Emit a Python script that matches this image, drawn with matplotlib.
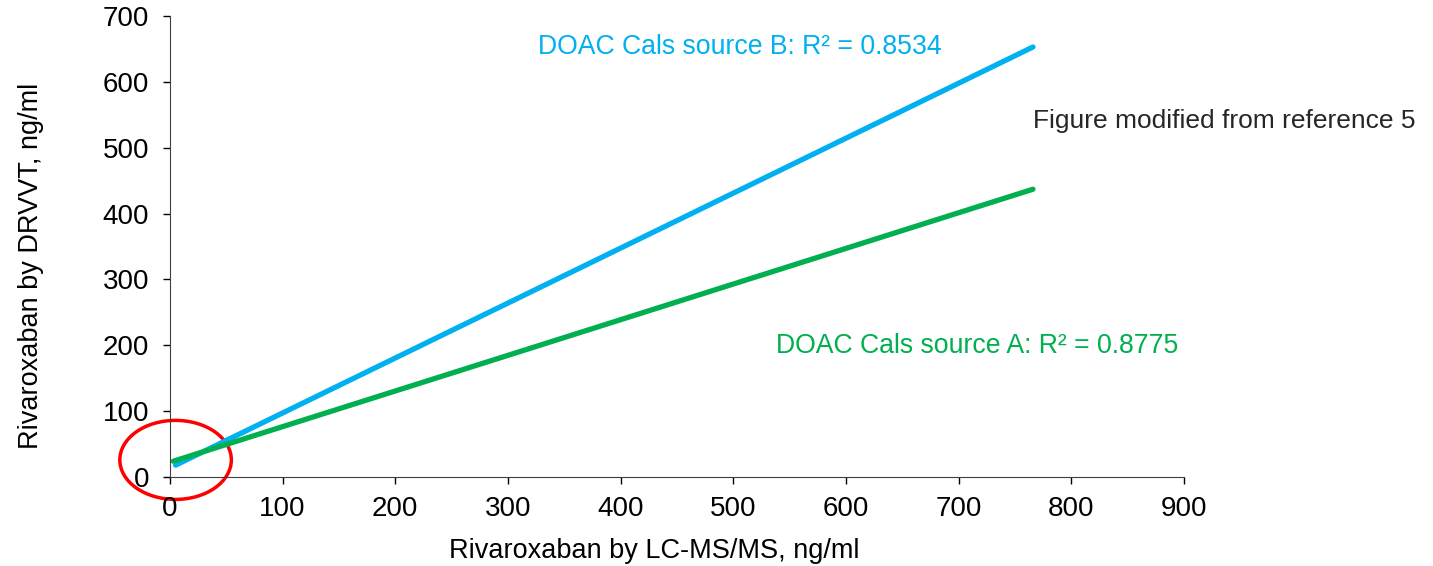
import matplotlib.pyplot as plt
from matplotlib.patches import Ellipse

plt.rcParams['font.family'] = ['Liberation Sans', 'DejaVu Sans']

# regression lines, end points
x_b = [5, 766]
y_b = [18, 653]
x_a = [3, 766]
y_a = [24, 437]

x_ticks = [0, 100, 200, 300, 400, 500, 600, 700, 800, 900]
y_ticks = [0, 100, 200, 300, 400, 500, 600, 700]

blue = '#00B0F0'
green = '#00B050'

fig = plt.figure(figsize=(14.33, 5.66), dpi=100)
ax = fig.add_axes([0.1186, 0.1572, 0.7076, 0.8145])

ax.plot(x_b, y_b, color=blue, lw=3.8, solid_capstyle='round')
ax.plot(x_a, y_a, color=green, lw=3.8, solid_capstyle='round')

ax.set_xlim(0, 900)
ax.set_ylim(0, 700)
ax.set_xticks(x_ticks)
ax.set_yticks(y_ticks)
ax.tick_params(labelsize=20, length=5, width=1, direction='out', colors='black')
ax.tick_params(axis='x', pad=9)
ax.tick_params(axis='y', pad=10)
for s in ['top', 'right']:
    ax.spines[s].set_visible(False)
for s in ['left', 'bottom']:
    ax.spines[s].set_color('#404040')

ax.set_xlabel('Rivaroxaban by LC-MS/MS, ng/ml', fontsize=19.5)
ax.set_ylabel('Rivaroxaban by DRVVT, ng/ml', fontsize=19.5)
ax.xaxis.set_label_coords(0.478, -0.132)
ax.yaxis.set_label_coords(-0.124, 0.458)

ax.text(506, 653, 'DOAC Cals source B: R² = 0.8534', color=blue, fontsize=19.2,
        ha='center', va='center')
ax.text(538, 199, 'DOAC Cals source A: R² = 0.8775', color=green, fontsize=19.2,
        ha='left', va='center')
ax.text(766, 540, 'Figure modified from reference 5', color='#262626', fontsize=19,
        ha='left', va='center', clip_on=False)

# red circle round the origin
ax.add_patch(Ellipse((5, 26), 99, 120, fill=False, edgecolor='#FF0000', lw=2.5,
                     clip_on=False))

fig.savefig('out.png', dpi=100)
